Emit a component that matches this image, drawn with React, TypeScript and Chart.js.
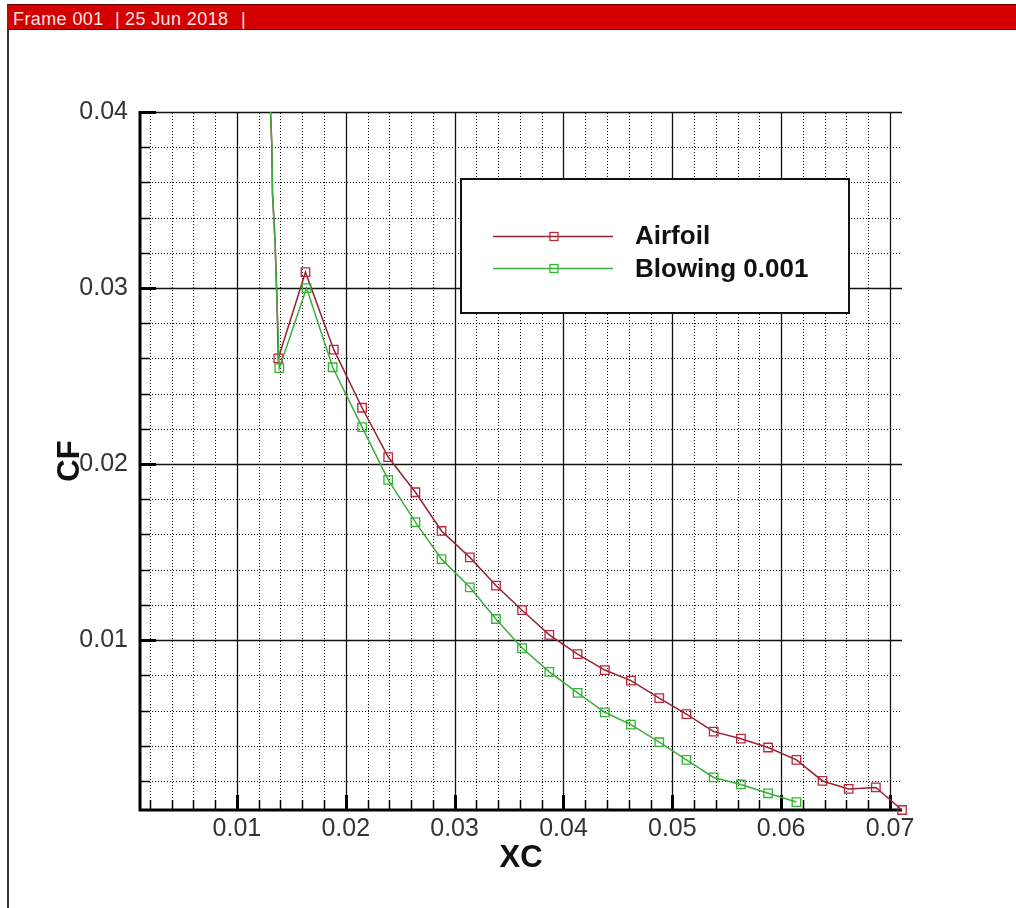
import React, { useEffect, useRef } from "react";
import { Chart, registerables } from "chart.js";

Chart.register(...registerables);

// ---- data ----
const LEAD_X = [0.01300, 0.01321, 0.01327, 0.01351, 0.01367];
const LEAD_Y_AIRFOIL = [0.0414, 0.0381, 0.0354, 0.0326, 0.0295];
const LEAD_Y_BLOWING = [0.0414, 0.0381, 0.0354, 0.0326, 0.0295];

const AIRFOIL_X = [
  0.0138, 0.0163, 0.0189, 0.0215, 0.0239, 0.0264, 0.0288, 0.0314, 0.0338, 0.0362,
  0.0387, 0.0413, 0.0438, 0.0462, 0.0488, 0.0513, 0.0538, 0.0563, 0.0588, 0.0614,
  0.0638, 0.0662, 0.0687, 0.0711,
];
const AIRFOIL_Y = [
  0.0260, 0.0309, 0.0265, 0.0232, 0.0204, 0.0184, 0.0162, 0.0147, 0.0131, 0.0117,
  0.0103, 0.0092, 0.0083, 0.0077, 0.0067, 0.0058, 0.0048, 0.0044, 0.0039, 0.0032,
  0.0020, 0.00155, 0.00163, 0.00035,
];

const BLOWING_X = [
  0.0139, 0.0164, 0.0188, 0.0215, 0.0239, 0.0264, 0.0288, 0.0314, 0.0338, 0.0362,
  0.0387, 0.0413, 0.0438, 0.0462, 0.0488, 0.0513, 0.0538, 0.0563, 0.0588, 0.0614,
];
const BLOWING_Y = [
  0.02545, 0.0300, 0.0255, 0.0221, 0.0191, 0.0167, 0.0146, 0.0130, 0.0112, 0.00955,
  0.0082, 0.0070, 0.0059, 0.0052, 0.0042, 0.0032, 0.0022, 0.0018, 0.0013, 0.0008,
];

const SERIES_LABELS = ["Airfoil", "Blowing 0.001"];

const X_MAJOR_TICKS = [0.01, 0.02, 0.03, 0.04, 0.05, 0.06, 0.07];
const Y_MAJOR_TICKS = [0.01, 0.02, 0.03, 0.04];
const X_MINOR_TICKS = [
  0.002, 0.004, 0.006, 0.008, 0.012, 0.014, 0.016, 0.018, 0.022, 0.024, 0.026, 0.028,
  0.032, 0.034, 0.036, 0.038, 0.042, 0.044, 0.046, 0.048, 0.052, 0.054, 0.056, 0.058,
  0.062, 0.064, 0.066, 0.068,
];
const Y_MINOR_TICKS = [
  0.002, 0.004, 0.006, 0.008, 0.012, 0.014, 0.016, 0.018, 0.022, 0.024, 0.026, 0.028,
  0.032, 0.034, 0.036, 0.038,
];

const X_MIN = 0.0011;
const X_MAX = 0.0711;
const Y_MIN = 0.00035;
const Y_MAX = 0.04;

// ---- styles ----
const FONT = "'Liberation Sans', Arial, Helvetica, sans-serif";
const RED_LINE = "#9a2230";
const RED_MARK = "#b8283c";
const GREEN_LINE = "#3cae3c";
const GREEN_MARK = "#2fb52f";

const tecplotGrid = {
  id: "tecplotGrid",
  beforeDatasetsDraw(chart: any) {
    const { ctx, chartArea: a, scales } = chart;
    const x = scales.x;
    const y = scales.y;
    const px = (v: number) => Math.round(x.getPixelForValue(v)) + 0.5;
    const py = (v: number) => Math.round(y.getPixelForValue(v)) + 0.5;
    ctx.save();
    // minor dotted grid
    ctx.strokeStyle = "#000";
    ctx.lineWidth = 1;
    ctx.setLineDash([1, 2]);
    ctx.beginPath();
    X_MINOR_TICKS.forEach((v) => {
      const p = px(v);
      ctx.moveTo(p, a.bottom);
      ctx.lineTo(p, a.top);
    });
    Y_MINOR_TICKS.forEach((v) => {
      const p = py(v);
      ctx.moveTo(a.left, p);
      ctx.lineTo(a.right, p);
    });
    ctx.stroke();
    // major solid grid
    ctx.setLineDash([]);
    ctx.strokeStyle = "#111";
    ctx.lineWidth = 1.3;
    ctx.beginPath();
    X_MAJOR_TICKS.forEach((v) => {
      const p = px(v);
      ctx.moveTo(p, a.bottom);
      ctx.lineTo(p, a.top);
    });
    Y_MAJOR_TICKS.forEach((v) => {
      const p = py(v);
      ctx.moveTo(a.left, p);
      ctx.lineTo(a.right, p);
    });
    ctx.stroke();
    // minor tick marks
    ctx.strokeStyle = "#000";
    ctx.lineWidth = 1.5;
    ctx.beginPath();
    X_MINOR_TICKS.forEach((v) => {
      const p = px(v);
      ctx.moveTo(p, a.bottom);
      ctx.lineTo(p, a.bottom - 10);
    });
    Y_MINOR_TICKS.forEach((v) => {
      const p = py(v);
      ctx.moveTo(a.left, p);
      ctx.lineTo(a.left + 10, p);
    });
    ctx.stroke();
    // major tick marks
    ctx.lineWidth = 3;
    ctx.beginPath();
    X_MAJOR_TICKS.forEach((v) => {
      const p = px(v);
      ctx.moveTo(p, a.bottom);
      ctx.lineTo(p, a.bottom - 15);
    });
    Y_MAJOR_TICKS.forEach((v) => {
      const p = py(v);
      ctx.moveTo(a.left, p);
      ctx.lineTo(a.left + 16, p);
    });
    ctx.stroke();
    // axis lines
    ctx.lineWidth = 3;
    ctx.beginPath();
    ctx.moveTo(a.left, a.top - 1);
    ctx.lineTo(a.left, a.bottom);
    ctx.lineTo(a.right, a.bottom);
    ctx.stroke();
    ctx.restore();
  },
};

const boxLegend = {
  id: "boxLegend",
  afterDatasetsDraw(chart: any) {
    const { ctx } = chart;
    const box = { x: 461, y: 179, w: 388, h: 134 };
    ctx.save();
    ctx.fillStyle = "#fff";
    ctx.fillRect(box.x, box.y, box.w, box.h);
    ctx.strokeStyle = "#111";
    ctx.lineWidth = 2;
    ctx.strokeRect(box.x, box.y, box.w, box.h);
    const rows = [
      { ds: chart.data.datasets[0], ly: 236.5, by: 244 },
      { ds: chart.data.datasets[1], ly: 268.5, by: 277 },
    ];
    rows.forEach(({ ds, ly, by }) => {
      ctx.strokeStyle = ds.borderColor;
      ctx.lineWidth = 1.5;
      ctx.beginPath();
      ctx.moveTo(493, ly);
      ctx.lineTo(613, ly);
      ctx.stroke();
      ctx.strokeStyle = ds.pointBorderColor;
      ctx.lineWidth = 1.3;
      ctx.strokeRect(550, ly - 4, 8, 8);
      ctx.fillStyle = "#111";
      ctx.font = `bold 26px ${FONT}`;
      ctx.textAlign = "left";
      ctx.textBaseline = "alphabetic";
      ctx.fillText(ds.label, 635, by);
    });
    ctx.restore();
  },
};

function buildPoints(leadY: number[], xs: number[], ys: number[]) {
  const pts = LEAD_X.map((x, i) => ({ x, y: leadY[i] }));
  xs.forEach((x, i) => pts.push({ x, y: ys[i] }));
  return pts;
}

function radii(n: number) {
  return LEAD_X.map(() => 0).concat(Array.from({ length: n }, () => 6));
}

export default function App() {
  const ref = useRef<HTMLCanvasElement | null>(null);

  useEffect(() => {
    if (!ref.current) return;
    const chart = new Chart(ref.current, {
      type: "line",
      data: {
        datasets: [
          {
            label: SERIES_LABELS[0],
            data: buildPoints(LEAD_Y_AIRFOIL, AIRFOIL_X, AIRFOIL_Y),
            borderColor: RED_LINE,
            borderWidth: 1.5,
            pointStyle: "rect",
            pointRadius: radii(AIRFOIL_X.length),
            pointBorderColor: RED_MARK,
            pointBackgroundColor: "rgba(0,0,0,0)",
            pointBorderWidth: 1.3,
            tension: 0,
            fill: false,
            order: 2,
            clip: { left: 0, top: 0, right: 10, bottom: 10 },
          } as any,
          {
            label: SERIES_LABELS[1],
            data: buildPoints(LEAD_Y_BLOWING, BLOWING_X, BLOWING_Y),
            borderColor: GREEN_LINE,
            borderWidth: 1.5,
            pointStyle: "rect",
            pointRadius: radii(BLOWING_X.length),
            pointBorderColor: GREEN_MARK,
            pointBackgroundColor: "rgba(0,0,0,0)",
            pointBorderWidth: 1.3,
            tension: 0,
            fill: false,
            order: 1,
            clip: { left: 0, top: 0, right: 10, bottom: 10 },
          } as any,
        ],
      },
      options: {
        responsive: false,
        animation: false,
        devicePixelRatio: 1,
        parsing: false as any,
        layout: { padding: { left: 8, top: 112, right: 114, bottom: 0 } },
        plugins: {
          legend: { display: false },
          tooltip: { enabled: false },
          title: { display: false },
        },
        scales: {
          x: {
            type: "linear",
            min: X_MIN,
            max: X_MAX,
            afterBuildTicks: (s: any) => {
              s.ticks = X_MAJOR_TICKS.map((v) => ({ value: v }));
            },
            afterFit: (s: any) => {
              s.height = 98;
            },
            ticks: {
              callback: (v: any) => Number(v).toFixed(2),
              font: { family: FONT, size: 25 },
              color: "#333",
              padding: 4,
              maxRotation: 0,
              autoSkip: false,
            },
            grid: { display: false, drawTicks: false },
            border: { display: false },
            title: {
              display: true,
              text: "XC",
              font: { family: FONT, size: 31, weight: "bold" },
              color: "#111",
              padding: { top: 0, bottom: 31 },
            },
          },
          y: {
            type: "linear",
            min: Y_MIN,
            max: Y_MAX,
            afterBuildTicks: (s: any) => {
              s.ticks = Y_MAJOR_TICKS.map((v) => ({ value: v }));
            },
            afterFit: (s: any) => {
              s.width = 132;
            },
            ticks: {
              callback: (v: any) => Number(v).toFixed(2),
              font: { family: FONT, size: 25 },
              color: "#333",
              padding: 12,
              autoSkip: false,
            },
            grid: { display: false, drawTicks: false },
            border: { display: false },
            title: {
              display: true,
              text: "CF",
              font: { family: FONT, size: 31, weight: "bold" },
              color: "#111",
              padding: { top: 44, bottom: 0 },
            },
          },
        },
      },
      plugins: [tecplotGrid, boxLegend],
    });
    return () => chart.destroy();
  }, []);

  const hdrText: React.CSSProperties = {
    position: "absolute",
    top: 4,
    color: "#f6e4e4",
    fontFamily: FONT,
    fontSize: 18,
    letterSpacing: "0.4px",
    lineHeight: "20px",
    whiteSpace: "nowrap",
  };

  return (
    <div
      style={{
        position: "absolute",
        left: 0,
        top: 0,
        width: 1016,
        height: 908,
        background: "#fff",
        overflow: "hidden",
      }}
    >
      <canvas
        ref={ref}
        width={1016}
        height={908}
        style={{ position: "absolute", left: 0, top: 0, width: 1016, height: 908 }}
      />
      <div
        style={{
          position: "absolute",
          left: 7,
          top: 4,
          width: 1009,
          height: 26,
          background: "#d40000",
          borderTop: "1px solid #6e0000",
          borderBottom: "1px solid #6e0000",
          boxSizing: "border-box",
        }}
      >
        <span style={{ ...hdrText, left: 6 }}>Frame 001</span>
        <span style={{ ...hdrText, left: 108 }}>|</span>
        <span style={{ ...hdrText, left: 118 }}>25 Jun 2018</span>
        <span style={{ ...hdrText, left: 234 }}>|</span>
      </div>
      <div
        style={{
          position: "absolute",
          left: 7,
          top: 30,
          width: 2,
          height: 878,
          background: "#333",
        }}
      />
    </div>
  );
}
